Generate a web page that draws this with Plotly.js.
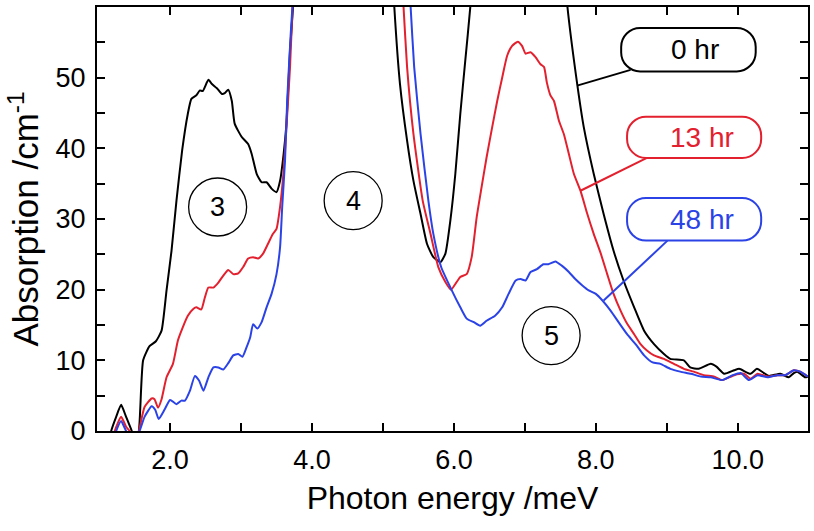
<!DOCTYPE html>
<html>
<head>
<meta charset="utf-8">
<script src="https://cdn.plot.ly/plotly-3.0.1.min.js"></script>
<style>
  html, body { margin: 0; padding: 0; background: #fff; }
  #chart { width: 814px; height: 531px; }
</style>
</head>
<body>
<div id="chart"></div>
<script>
// ---- data ----
const energy0 = [1.15,1.17,1.24,1.31,1.38,1.46,1.51,1.56,1.62,1.71,1.80,1.88,1.95,2.02,2.09,2.17,2.25,2.30,2.37,2.42,2.46,2.54,2.59,2.66,2.73,2.77,2.82,2.87,2.91,3.01,3.10,3.15,3.22,3.29,3.36,3.43,3.50,3.55,3.60,3.64,3.69,3.74,3.80,5.10,5.16,5.24,5.34,5.43,5.53,5.62,5.71,5.81,5.88,5.95,6.02,6.09,6.16,6.23,6.30,7.52,7.60,7.74,7.83,7.97,8.11,8.25,8.39,8.54,8.68,8.82,8.96,9.05,9.24,9.33,9.45,9.62,9.70,9.81,9.95,10.02,10.18,10.27,10.37,10.44,10.60,10.72,10.79,10.84,10.95,10.99];
const abs0    = [-1,0,2,3.7,2,0,-1.5,0,10.0,12.0,12.7,14.2,19.9,25.5,32.6,39.7,44.9,47.0,47.5,48.2,48.1,49.7,49.1,48.5,47.7,47.8,48.3,46.7,43.5,41.6,40.6,39.2,36.4,35.2,35.2,34.3,33.8,35.4,39.2,43.5,53.8,61,72,72,60,49.1,41.1,35.4,30.7,26.5,24.6,23.9,25.1,29.8,36.4,44.9,52.4,59.9,70,70,60,48.9,43.0,36.4,30.7,25.5,21.3,17.5,14.2,12.3,10.9,10.2,10.0,9.0,8.8,9.5,9.1,8.1,8.6,8.8,8.1,8.8,8.2,7.8,8.1,7.6,8.2,8.4,7.6,7.7];

const energy13 = [1.20,1.22,1.31,1.38,1.43,1.50,1.56,1.64,1.74,1.78,1.83,1.88,1.95,2.04,2.11,2.18,2.25,2.33,2.37,2.44,2.49,2.54,2.61,2.68,2.75,2.82,2.89,2.96,3.03,3.10,3.17,3.24,3.31,3.38,3.45,3.50,3.55,3.60,3.64,3.69,3.73,3.78,5.22,5.29,5.34,5.43,5.56,5.67,5.78,5.88,5.96,6.02,6.09,6.18,6.25,6.32,6.39,6.46,6.53,6.61,6.68,6.75,6.82,6.90,6.96,7.01,7.08,7.15,7.22,7.27,7.31,7.36,7.41,7.48,7.55,7.62,7.69,7.79,7.88,7.97,8.07,8.16,8.25,8.35,8.44,8.54,8.63,8.72,8.82,8.96,9.10,9.24,9.38,9.52,9.67,9.78,9.95,10.09,10.18,10.28,10.42,10.56,10.67,10.79,10.88,10.99];
const abs13    = [-1,0,2.0,0.6,0,-1.5,0,3.4,4.6,4.5,3.3,4.5,7.6,9.5,12.8,14.7,16.3,17.3,17.5,17.2,18.9,20.3,20.3,21.0,22.0,22.8,22.2,22.3,23.2,24.4,24.6,24.4,25.1,26.5,27.9,28.6,31.7,36.8,43.0,51.5,61,72,72,60,51.5,42.0,32.6,27.9,23.2,21.1,20.0,20.8,21.8,22.2,24.6,30.2,34.5,38.7,42.5,46.7,50.0,53.1,54.5,55.1,54.5,53.4,53.6,52.9,51.9,51.5,49.3,47.5,46.7,43.9,42.0,39.2,36.4,33.8,30.7,27.9,25.1,22.2,19.4,17.0,15.2,13.7,12.3,11.4,10.7,10.2,9.5,8.8,8.4,7.9,7.7,7.2,7.9,8.1,7.4,8.1,7.7,7.9,7.9,8.6,8.4,7.7];

const energy48 = [1.21,1.24,1.31,1.38,1.48,1.57,1.64,1.74,1.79,1.84,1.92,2.00,2.09,2.16,2.21,2.28,2.35,2.41,2.47,2.54,2.61,2.68,2.75,2.82,2.89,2.96,3.02,3.08,3.13,3.17,3.23,3.29,3.36,3.43,3.50,3.55,3.58,3.62,3.65,3.70,3.73,3.78,5.32,5.39,5.44,5.53,5.64,5.71,5.82,5.97,6.09,6.18,6.28,6.37,6.46,6.58,6.68,6.77,6.87,6.94,7.01,7.08,7.17,7.26,7.33,7.43,7.52,7.62,7.71,7.81,7.90,8.00,8.09,8.21,8.32,8.44,8.56,8.68,8.80,8.91,9.05,9.19,9.34,9.48,9.62,9.78,9.93,10.04,10.16,10.28,10.42,10.56,10.67,10.79,10.88,10.99];
const abs48    = [-1,0,1.4,0,-1.5,0,2.0,3.5,3.0,1.7,3.0,4.4,3.8,4.3,4.3,5.7,7.8,7.1,5.7,7.6,9.0,9.0,8.7,9.6,10.7,10.9,10.5,11.9,13.3,15.1,14.5,15.4,17.5,19.4,22.2,26.0,31.7,38.3,46.7,56.2,61,72,72,60,51.5,42.0,32.6,27.9,23.2,19.9,17.5,15.9,15.4,14.9,15.6,16.3,17.5,19.4,21.3,21.5,21.3,22.5,22.9,23.6,23.6,24.0,23.4,22.5,21.5,20.6,19.9,19.4,18.5,17.0,15.4,13.7,12.3,10.7,9.7,9.5,8.8,8.4,8.1,7.7,7.6,7.2,7.9,8.2,7.2,7.9,7.6,7.9,7.9,8.6,8.4,7.7];

const seriesNames = ["0 hr", "13 hr", "48 hr"];
const seriesColors = ["#000000", "#e3202e", "#2b43e6"];

const xTickVals = [2, 4, 6, 8, 10];
const xTickText = ["2.0", "4.0", "6.0", "8.0", "10.0"];
const xMinorVals = [3, 5, 7, 9];
const yTickVals = [0, 10, 20, 30, 40, 50];
const yTickText = ["0", "10", "20", "30", "40", "50"];
const yMinorVals = [5, 15, 25, 35, 45, 55];

const regionLabels = ["3", "4", "5"];

// ---- layout geometry ----
const xRange = [0.97, 10.99];
const yRange = [0, 60];
const W = 814, H = 531;
const M = {l: 97, r: 6, t: 7, b: 100};
const pxX = (W - M.l - M.r) / (xRange[1] - xRange[0]);
const pxY = (H - M.t - M.b) / (yRange[1] - yRange[0]);

const FONT = "'Liberation Sans', Arial, Helvetica, sans-serif";

const traces = [
  {x: energy0, y: abs0},
  {x: energy13, y: abs13},
  {x: energy48, y: abs48}
].map((d, i) => ({
  x: d.x, y: d.y, type: "scatter", mode: "lines", name: seriesNames[i],
  line: {color: seriesColors[i], width: 2, shape: "spline", smoothing: 0.5}, hoverinfo: "skip"
}));

// circles with region numbers
const circleCenters = [[2.67, 31.7], [4.58, 32.6], [7.37, 13.5]];
const circleR = 29; // px
const shapes = [];
const annotations = [];
circleCenters.forEach((c, i) => {
  const rx = circleR / pxX, ry = circleR / pxY;
  shapes.push({type: "circle", xref: "x", yref: "y",
    x0: c[0] - rx, x1: c[0] + rx, y0: c[1] - ry, y1: c[1] + ry,
    line: {color: "#000", width: 1.3}, fillcolor: "rgba(0,0,0,0)"});
  annotations.push({x: c[0], y: c[1], xref: "x", yref: "y", text: regionLabels[i],
    showarrow: false, font: {family: FONT, size: 27, color: "#000"},
    xanchor: "center", yanchor: "middle"});
});

// rounded label boxes with leader lines
function roundRect(x0, x1, y0, y1, rpx) {
  const rx = rpx / pxX, ry = rpx / pxY, k = 0.5523;
  return `M ${x0+rx},${y1} L ${x1-rx},${y1} ` +
    `C ${x1-rx+k*rx},${y1} ${x1},${y1-ry+k*ry} ${x1},${y1-ry} ` +
    `L ${x1},${y0+ry} C ${x1},${y0+ry-k*ry} ${x1-rx+k*rx},${y0} ${x1-rx},${y0} ` +
    `L ${x0+rx},${y0} C ${x0+rx-k*rx},${y0} ${x0},${y0+ry-k*ry} ${x0},${y0+ry} ` +
    `L ${x0},${y1-ry} C ${x0},${y1-ry+k*ry} ${x0+rx-k*rx},${y1} ${x0+rx},${y1} Z`;
}
const boxes = [
  {x0: 8.357, x1: 10.253, y0: 50.89, y1: 57.03, tx: 9.40, ty: 53.96, lead: [7.736, 48.87, 8.49, 51.1]},
  {x0: 8.44, x1: 10.33, y0: 38.64, y1: 44.48, tx: 9.50, ty: 41.56, lead: [7.783, 34.0, 8.72, 38.64]},
  {x0: 8.44, x1: 10.33, y0: 26.94, y1: 32.96, tx: 9.50, ty: 29.95, lead: [8.11, 18.46, 9.01, 26.94]}
];
boxes.forEach((b, i) => {
  shapes.push({type: "line", xref: "x", yref: "y",
    x0: b.lead[0], y0: b.lead[1], x1: b.lead[2], y1: b.lead[3],
    line: {color: seriesColors[i], width: 2}});
  shapes.push({type: "path", xref: "x", yref: "y", path: roundRect(b.x0, b.x1, b.y0, b.y1, 19),
    line: {color: seriesColors[i], width: 2}, fillcolor: "#ffffff"});
  annotations.push({x: b.tx, y: b.ty, xref: "x", yref: "y", text: seriesNames[i],
    showarrow: false, font: {family: FONT, size: 28, color: seriesColors[i]},
    xanchor: "center", yanchor: "middle"});
});

const axisCommon = {
  showline: true, linecolor: "#000", linewidth: 2, mirror: "ticks",
  ticks: "inside", ticklen: 8, tickwidth: 2, tickcolor: "#000",
  showgrid: false, zeroline: false, automargin: false,
  tickfont: {family: FONT, size: 27, color: "#000"}
};
const minorCommon = {ticks: "inside", ticklen: 8, tickwidth: 2, tickcolor: "#000", showgrid: false};

const layout = {
  width: W, height: H,
  margin: M,
  paper_bgcolor: "#fff", plot_bgcolor: "#fff",
  showlegend: false,
  font: {family: FONT, color: "#000"},
  xaxis: Object.assign({}, axisCommon, {
    range: xRange, tickmode: "array", tickvals: xTickVals, ticktext: xTickText,
    minor: Object.assign({tickmode: "array", tickvals: xMinorVals}, minorCommon),
    ticklabelstandoff: 4,
    title: {text: "Photon energy /meV", font: {family: FONT, size: 32, color: "#000"}, standoff: 12}
  }),
  yaxis: Object.assign({}, axisCommon, {
    range: yRange, tickmode: "array", tickvals: yTickVals, ticktext: yTickText,
    minor: Object.assign({tickmode: "array", tickvals: yMinorVals}, minorCommon),
    ticklabelstandoff: 4,
    title: {text: "Absorption /cm<sup>-1</sup>", font: {family: FONT, size: 35, color: "#000"}, standoff: 6}
  }),
  shapes: shapes,
  annotations: annotations
};

Plotly.newPlot("chart", traces, layout, {staticPlot: true, displayModeBar: false});
</script>
</body>
</html>
